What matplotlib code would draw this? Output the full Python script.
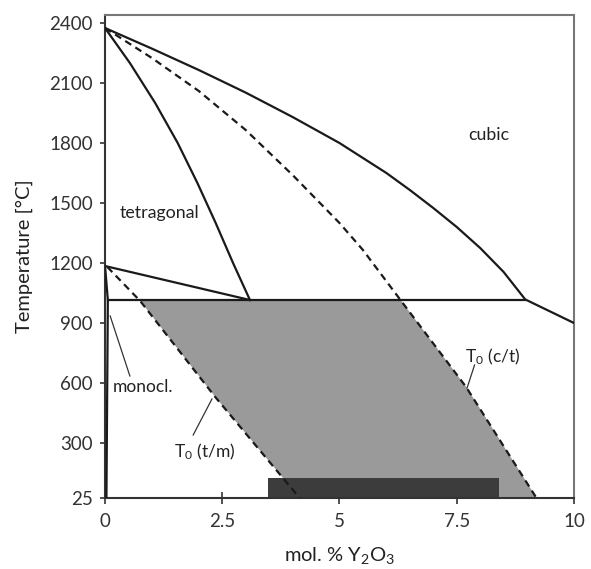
import numpy as np
import matplotlib
matplotlib.use("Agg")
import matplotlib.pyplot as plt

plt.rcParams["font.family"] = ["Lato", "DejaVu Sans"]
plt.rcParams["mathtext.fontset"] = "custom"
plt.rcParams["mathtext.rm"] = "Lato"
plt.rcParams["mathtext.it"] = "Lato:italic"

# ZrO2 - Y2O3 phase diagram (x: mol.% Y2O3, y: degC)
cubic_x = [0.0, 1.0, 2.0, 3.0, 4.0, 5.0, 6.0, 6.5, 7.0, 7.5, 8.0, 8.5, 8.96, 10.0]
cubic_t = [2375, 2272, 2165, 2052, 1930, 1800, 1650, 1565, 1475, 1380, 1275, 1155, 1018, 900]

tetra_x = [0.0, 0.53, 1.07, 1.55, 1.97, 2.36, 2.73, 3.09]
tetra_t = [2375, 2200, 2000, 1800, 1600, 1400, 1200, 1015]

t0_ct_x = [0.0, 1.0, 2.0, 3.0, 4.0, 5.0, 5.5, 6.3, 7.7, 9.2]
t0_ct_t = [2375, 2225, 2060, 1865, 1640, 1400, 1265, 1015, 580, 25]

t0_tm_x = [0.05, 0.75, 2.35, 4.15]
t0_tm_t = [1180, 1010, 530, 25]

mono_tetra_x = [0.0, 3.09]
mono_tetra_t = [1185, 1015]

mono_x = [0.0, 0.06, 0.03]
mono_t = [1185, 1015, 25]

eutectoid_t = 1015
eutectoid_x = [0.06, 8.96]

dark_x = [3.48, 8.4]
dark_t = [25, 125]

xticks = [0, 2.5, 5, 7.5, 10]
xtick_labels = ["0", "2.5", "5", "7.5", "10"]
yticks = [25, 300, 600, 900, 1200, 1500, 1800, 2100, 2400]

fig = plt.figure(figsize=(5.91, 5.69), dpi=100)
ax = fig.add_axes([0.1777, 0.1248, 0.7935, 0.8488])

# shaded region between the two T0 lines, below the eutectoid
t_fill = np.linspace(25, eutectoid_t, 200)
left = np.interp(t_fill, t0_tm_t[::-1], t0_tm_x[::-1])
right = np.interp(t_fill, t0_ct_t[::-1], t0_ct_x[::-1])
ax.fill_betweenx(t_fill, left, right, color="#9a9a9a", lw=0, zorder=1)

ax.fill_between(dark_x, dark_t[0], dark_t[1], color="#3c3c3c", lw=0, zorder=2)

lw = 1.6
dash = (0, (3.2, 2.2))
ax.plot(cubic_x, cubic_t, color="#1a1a1a", lw=lw, zorder=3)
ax.plot(tetra_x, tetra_t, color="#1a1a1a", lw=lw, zorder=3)
ax.plot(mono_tetra_x, mono_tetra_t, color="#1a1a1a", lw=lw, zorder=3)
ax.plot(mono_x, mono_t, color="#1a1a1a", lw=lw, zorder=3)
ax.plot(eutectoid_x, [eutectoid_t, eutectoid_t], color="#1a1a1a", lw=lw, zorder=3)
ax.plot(t0_ct_x, t0_ct_t, color="#1a1a1a", lw=lw, ls=dash, zorder=3)
ax.plot(t0_tm_x, t0_tm_t, color="#1a1a1a", lw=lw, ls=dash, zorder=3)

# labels and leader lines
txt = "#222222"
ax.text(1.16, 1450, "tetragonal", fontsize=12.8, ha="center", va="center", color=txt)
ax.text(8.18, 1840, "cubic", fontsize=12.8, ha="center", va="center", color=txt)
ax.text(0.82, 580, "monocl.", fontsize=12.5, ha="center", va="center", color=txt)
ax.plot([0.53, 0.11], [635, 935], color="#333333", lw=0.9)
ax.text(2.13, 255, r"T$_\mathregular{0}$ (t/m)", fontsize=12.5, ha="center", va="center", color=txt)
ax.plot([1.88, 2.28], [340, 520], color="#333333", lw=0.9)
ax.text(8.27, 730, r"T$_\mathregular{0}$ (c/t)", fontsize=12.5, ha="center", va="center", color=txt)
ax.plot([7.72, 7.88], [575, 690], color="#333333", lw=0.9)

ax.set_xlim(0, 10)
ax.set_ylim(25, 2440)
ax.set_xticks(xticks)
ax.set_xticklabels(xtick_labels)
ax.set_yticks(yticks)
ax.tick_params(axis="x", direction="inout", length=9, width=1.2, labelsize=13.5,
               colors="#333333", pad=6)
ax.tick_params(axis="y", direction="out", length=3.6, width=1.2, labelsize=13.5,
               colors="#333333", pad=5)
for side in ["top", "right"]:
    ax.spines[side].set_color("#777777")
    ax.spines[side].set_linewidth(1.5)
for side in ["left", "bottom"]:
    ax.spines[side].set_color("#333333")
    ax.spines[side].set_linewidth(1.5)

ax.set_xlabel(r"mol. % Y$_\mathregular{2}$O$_\mathregular{3}$", fontsize=14.5, color=txt, labelpad=11)
ax.set_ylabel("Temperature [°C]", fontsize=14.5, color=txt, labelpad=12)

fig.savefig("out.png", dpi=100)
